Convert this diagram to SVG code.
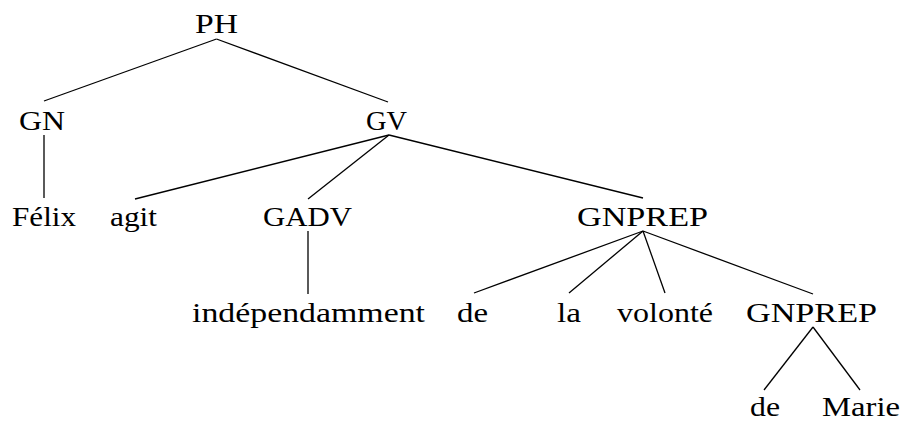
<svg xmlns="http://www.w3.org/2000/svg" width="902" height="421" viewBox="0 0 902 421">
<style>
text{font-family:"Liberation Serif","DejaVu Serif",serif;font-size:27px;fill:#000;text-anchor:middle}
.e line{stroke:#000;stroke-width:1.3}
</style>
<rect width="902" height="421" fill="#fff"/>
<g class="e" id="connectors">
<line x1="216.5" y1="39" x2="44" y2="101"/>
<line x1="216.5" y1="39" x2="388" y2="102"/>
<line x1="44" y1="135" x2="44" y2="198"/>
<line x1="389" y1="135" x2="135" y2="199"/>
<line x1="389" y1="135" x2="308" y2="199"/>
<line x1="389" y1="135" x2="643" y2="198"/>
<line x1="308" y1="231" x2="308" y2="294"/>
<line x1="643" y1="231" x2="474" y2="293"/>
<line x1="643" y1="231" x2="569" y2="293"/>
<line x1="643" y1="231" x2="665" y2="293"/>
<line x1="643" y1="231" x2="813" y2="294"/>
<line x1="813" y1="327" x2="764" y2="390"/>
<line x1="813" y1="327" x2="860" y2="390"/>
</g>
<g id="PH"><text x="216.5" y="33" textLength="43" lengthAdjust="spacingAndGlyphs">PH</text></g>
<g id="GN"><text x="42" y="130" textLength="46" lengthAdjust="spacingAndGlyphs">GN</text></g>
<g id="GV"><text x="386.5" y="130" textLength="41" lengthAdjust="spacingAndGlyphs">GV</text></g>
<g id="Felix"><text x="44" y="226" textLength="64" lengthAdjust="spacingAndGlyphs">Félix</text></g>
<g id="agit"><text x="133.5" y="226" textLength="47" lengthAdjust="spacingAndGlyphs">agit</text></g>
<g id="GADV"><text x="307.5" y="226" textLength="89" lengthAdjust="spacingAndGlyphs">GADV</text></g>
<g id="GNPREP1"><text x="642.5" y="226" textLength="131" lengthAdjust="spacingAndGlyphs">GNPREP</text></g>
<g id="independamment"><text x="308.5" y="322" textLength="233" lengthAdjust="spacingAndGlyphs">indépendamment</text></g>
<g id="de1"><text x="472.5" y="322" textLength="31" lengthAdjust="spacingAndGlyphs">de</text></g>
<g id="la"><text x="569" y="322" textLength="24" lengthAdjust="spacingAndGlyphs">la</text></g>
<g id="volonte"><text x="665" y="322" textLength="96" lengthAdjust="spacingAndGlyphs">volonté</text></g>
<g id="GNPREP2"><text x="811.5" y="322" textLength="131" lengthAdjust="spacingAndGlyphs">GNPREP</text></g>
<g id="de2"><text x="765" y="416" textLength="30" lengthAdjust="spacingAndGlyphs">de</text></g>
<g id="Marie"><text x="861" y="416" textLength="78" lengthAdjust="spacingAndGlyphs">Marie</text></g>
</svg>
